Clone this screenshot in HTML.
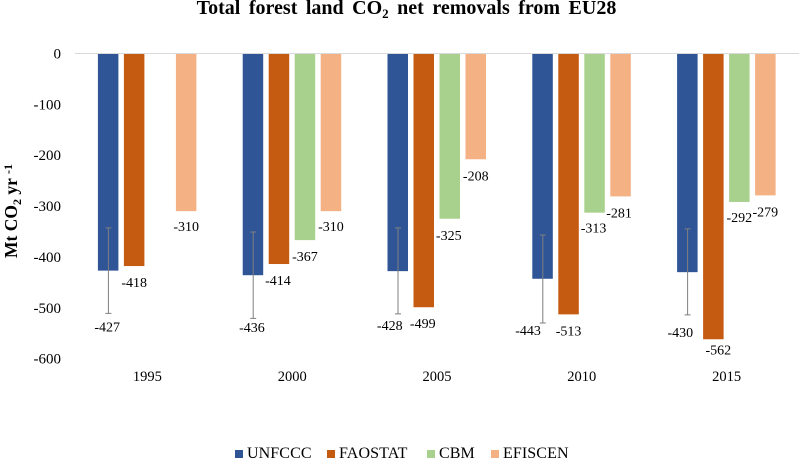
<!DOCTYPE html>
<html>
<head>
<meta charset="utf-8">
<style>
html,body{margin:0;padding:0;background:#fff;}
#chart{display:block;font-family:"Liberation Serif",serif;fill:#000;}
</style>
</head>
<body>
<svg id="chart" xmlns="http://www.w3.org/2000/svg" width="799" height="459" viewBox="0 0 799 459">
<rect width="799" height="459" fill="#ffffff"/>
<text x="406.5" y="14" text-anchor="middle" font-size="20" font-weight="bold" word-spacing="3.5">Total forest land CO<tspan font-size="13" dy="4">2</tspan><tspan dy="-4"> net removals from EU28</tspan></text>
<text transform="translate(17,211) rotate(-90)" text-anchor="middle" font-size="17.5" font-weight="bold">Mt CO<tspan font-size="12" dy="4">2</tspan><tspan dy="-4"> yr </tspan><tspan font-size="12" dy="-5">-1</tspan></text>
<g id="plot"></g>
<g id="legend"></g>
</svg>
<script>
const categories = ['1995', '2000', '2005', '2010', '2015'];
const seriesNames = ['UNFCCC', 'FAOSTAT', 'CBM', 'EFISCEN'];
const unfccc = [-427, -436, -428, -443, -430];
const faostat = [-418, -414, -499, -513, -562];
const cbm = [null, -367, -325, -313, -292];
const efiscen = [-310, -310, -208, -281, -279];
const errorLow = [-511, -521, -512, -530, -514];
const errorHigh = [-343, -351, -343, -357, -345];
const yTicks = [0, -100, -200, -300, -400, -500, -600];

const SVG_NS = 'http://www.w3.org/2000/svg';
const plot = document.getElementById('plot');
const legend = document.getElementById('legend');
const colors = ['#2F5597', '#C55A11', '#A9D18E', '#F4B183'];
const allSeries = [unfccc, faostat, cbm, efiscen];

function yScale(v) { return 53.5 + (-v) * 0.5085; }
function groupCenter(i) { return 75 + 144.8 * (i + 0.5); }
function barLeft(i, s) { return groupCenter(i) - 49.5 + s * 26; }

function make(tag, attrs, parent) {
  const el = document.createElementNS(SVG_NS, tag);
  for (const k in attrs) el.setAttribute(k, attrs[k]);
  parent.appendChild(el);
  return el;
}

function draw() {
  // Hand-placed label nudges relative to each bar's end [dx, dy], by group then series
  const nudges = [
    [[-1, 61], [0, 21], null, [0, 20]],
    [[-1, 57], [-1, 21], [0, 21], [0, 20]],
    [[-8, 59], [-1, 21], [-1, 21], [0, 21]],
    [[-14.5, 56], [0, 21], [-1, 20], [-1.5, 21]],
    [[-7, 65], [5, 15], [0, 20], [0, 21]]
  ];

  yTicks.forEach(function (t) {
    const label = make('text', { x: 61, y: yScale(t) + 5, 'text-anchor': 'end', 'font-size': 15 }, plot);
    
    
    label.textContent = t;
  });

  categories.forEach(function (cat, i) {
    const label = make('text', { x: groupCenter(i), y: 381, 'text-anchor': 'middle', 'font-size': 14.5 }, plot);
    
    
    label.textContent = cat;

    allSeries.forEach(function (series, s) {
      const v = series[i];
      if (v === null) return;
      const bar = make('rect', {
        x: barLeft(i, s), y: yScale(0), width: 20.5,
        height: yScale(v) - yScale(0), fill: colors[s]
      }, plot);
      
      
    });
  });

  const axisLine = make('line', { x1: 75, x2: 799, y1: yScale(0), y2: yScale(0), stroke: '#d9d9d9', 'stroke-width': 1 }, plot);
  
  

  categories.forEach(function (cat, i) {
    const ex = barLeft(i, 0) + 10.5;
    const y1 = yScale(errorHigh[i]);
    const y2 = yScale(errorLow[i]);
    const stem = make('path', {
      d: 'M' + ex + ' ' + y1 + 'V' + y2 + 'M' + (ex - 3) + ' ' + y1 + 'H' + (ex + 3) + 'M' + (ex - 3) + ' ' + y2 + 'H' + (ex + 3),
      stroke: '#7f7f7f', 'stroke-width': 1, fill: 'none'
    }, plot);
    
    
  });

  allSeries.forEach(function (series, s) {
    series.forEach(function (v, i) {
      if (v === null) return;
      const n = nudges[i][s] || [0, 21];
      const label = make('text', {
        x: barLeft(i, s) + 10.25 + n[0], y: yScale(v) + n[1],
        'text-anchor': 'middle', 'font-size': 14
      }, plot);
      
      
      label.textContent = v;
    });
  });

  const legendX = [235, 327, 427, 491];
  seriesNames.forEach(function (name, s) {
    const swatch = make('rect', { x: legendX[s], y: 450, width: 8, height: 8, fill: colors[s] }, legend);
    
    
    const label = make('text', { x: legendX[s] + 12, y: 458, 'font-size': 16, 'letter-spacing': 0.1 }, legend);
    
    
    label.textContent = name;
  });
}
draw();
</script>
</body>
</html>
